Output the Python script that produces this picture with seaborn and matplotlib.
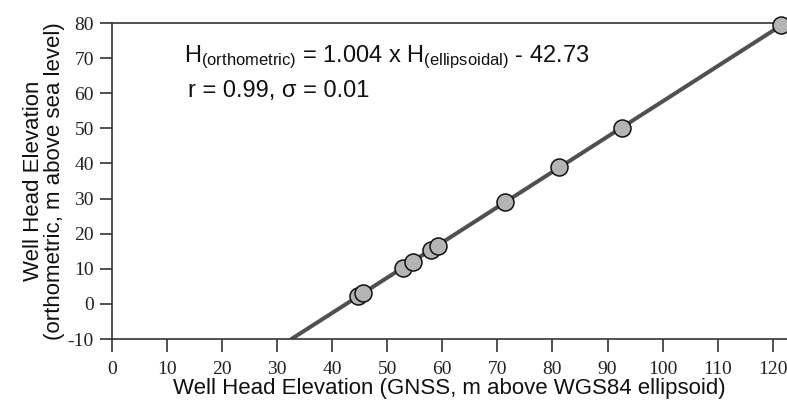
import numpy as np
import pandas as pd
import matplotlib
matplotlib.use("Agg")
import matplotlib.pyplot as plt
import seaborn as sns

# Data
ellipsoidal = [44.7, 45.5, 52.8, 54.6, 57.9, 59.2, 71.4, 81.1, 92.7, 121.5]
orthometric = [2.2, 3.0, 10.2, 12.0, 15.3, 16.6, 29.0, 38.9, 50.2, 79.3]
slope = 1.004
intercept = -42.73
x_ticks = [0, 10, 20, 30, 40, 50, 60, 70, 80, 90, 100, 110, 120]
y_ticks = [-10, 0, 10, 20, 30, 40, 50, 60, 70, 80]

sns.set_theme(style="white")
plt.rcParams['font.family'] = ['Liberation Sans', 'DejaVu Sans']
plt.rcParams['mathtext.fontset'] = 'custom'
plt.rcParams['mathtext.rm'] = 'Liberation Sans'
plt.rcParams['mathtext.it'] = 'Liberation Sans'
plt.rcParams['mathtext.default'] = 'regular'

df = pd.DataFrame({"ell": ellipsoidal, "orth": orthometric})

fig = plt.figure(figsize=(7.87, 4.05), dpi=100)
ax = fig.add_axes([112/787, 1-339/405, 1-112/787, (339-23)/405])

xmin, xmax = 0, 122.6
ymin, ymax = -10, 80
x_start = (ymin - intercept) / slope
line_x = np.linspace(x_start, xmax, 50)
line_df = pd.DataFrame({"x": line_x, "y": slope * line_x + intercept})
sns.lineplot(data=line_df, x="x", y="y", ax=ax, color="#505050", linewidth=2.9, zorder=2)
sns.scatterplot(data=df, x="ell", y="orth", ax=ax, s=150, color="#b4b4b4",
                edgecolor="#111111", linewidth=1.1, zorder=3, clip_on=False)

ax.set_xlim(xmin, xmax)
ax.set_ylim(ymin, ymax)
ax.set_xticks(x_ticks)
ax.set_yticks(y_ticks)
ax.set_xticklabels([str(t) for t in x_ticks], family='Liberation Serif', fontsize=14)
ax.set_yticklabels([str(t) for t in y_ticks], family='Liberation Serif', fontsize=14)
ax.tick_params(axis='x', direction='out', length=9, width=1.2, color='#333333', pad=7, labelcolor='#222222')
ax.tick_params(axis='y', direction='out', length=9, width=1.2, color='#333333', pad=4, labelcolor='#222222')
ax.tick_params(bottom=True, left=True)

for side in ['left', 'bottom', 'top']:
    ax.spines[side].set_color('#333333')
    ax.spines[side].set_linewidth(1.2)
ax.spines['right'].set_visible(False)

ax.set_xlabel("Well Head Elevation (GNSS, m above WGS84 ellipsoid)", fontsize=16, labelpad=0, color='#111111')
ax.set_ylabel("Well Head Elevation\n(orthometric, m above sea level)", fontsize=16, labelpad=2,
              color='#111111', linespacing=1.0)

ax.text(0.107, 0.89, r"H$_{(orthometric)}$ = 1.004 x H$_{(ellipsoidal)}$ - 42.73",
        transform=ax.transAxes, fontsize=17, color='#111111', va='center', ha='left')
ax.text(0.112, 0.786, "r = 0.99, σ = 0.01",
        transform=ax.transAxes, fontsize=17, color='#111111', va='center', ha='left')

fig.savefig("out.png", dpi=100)
